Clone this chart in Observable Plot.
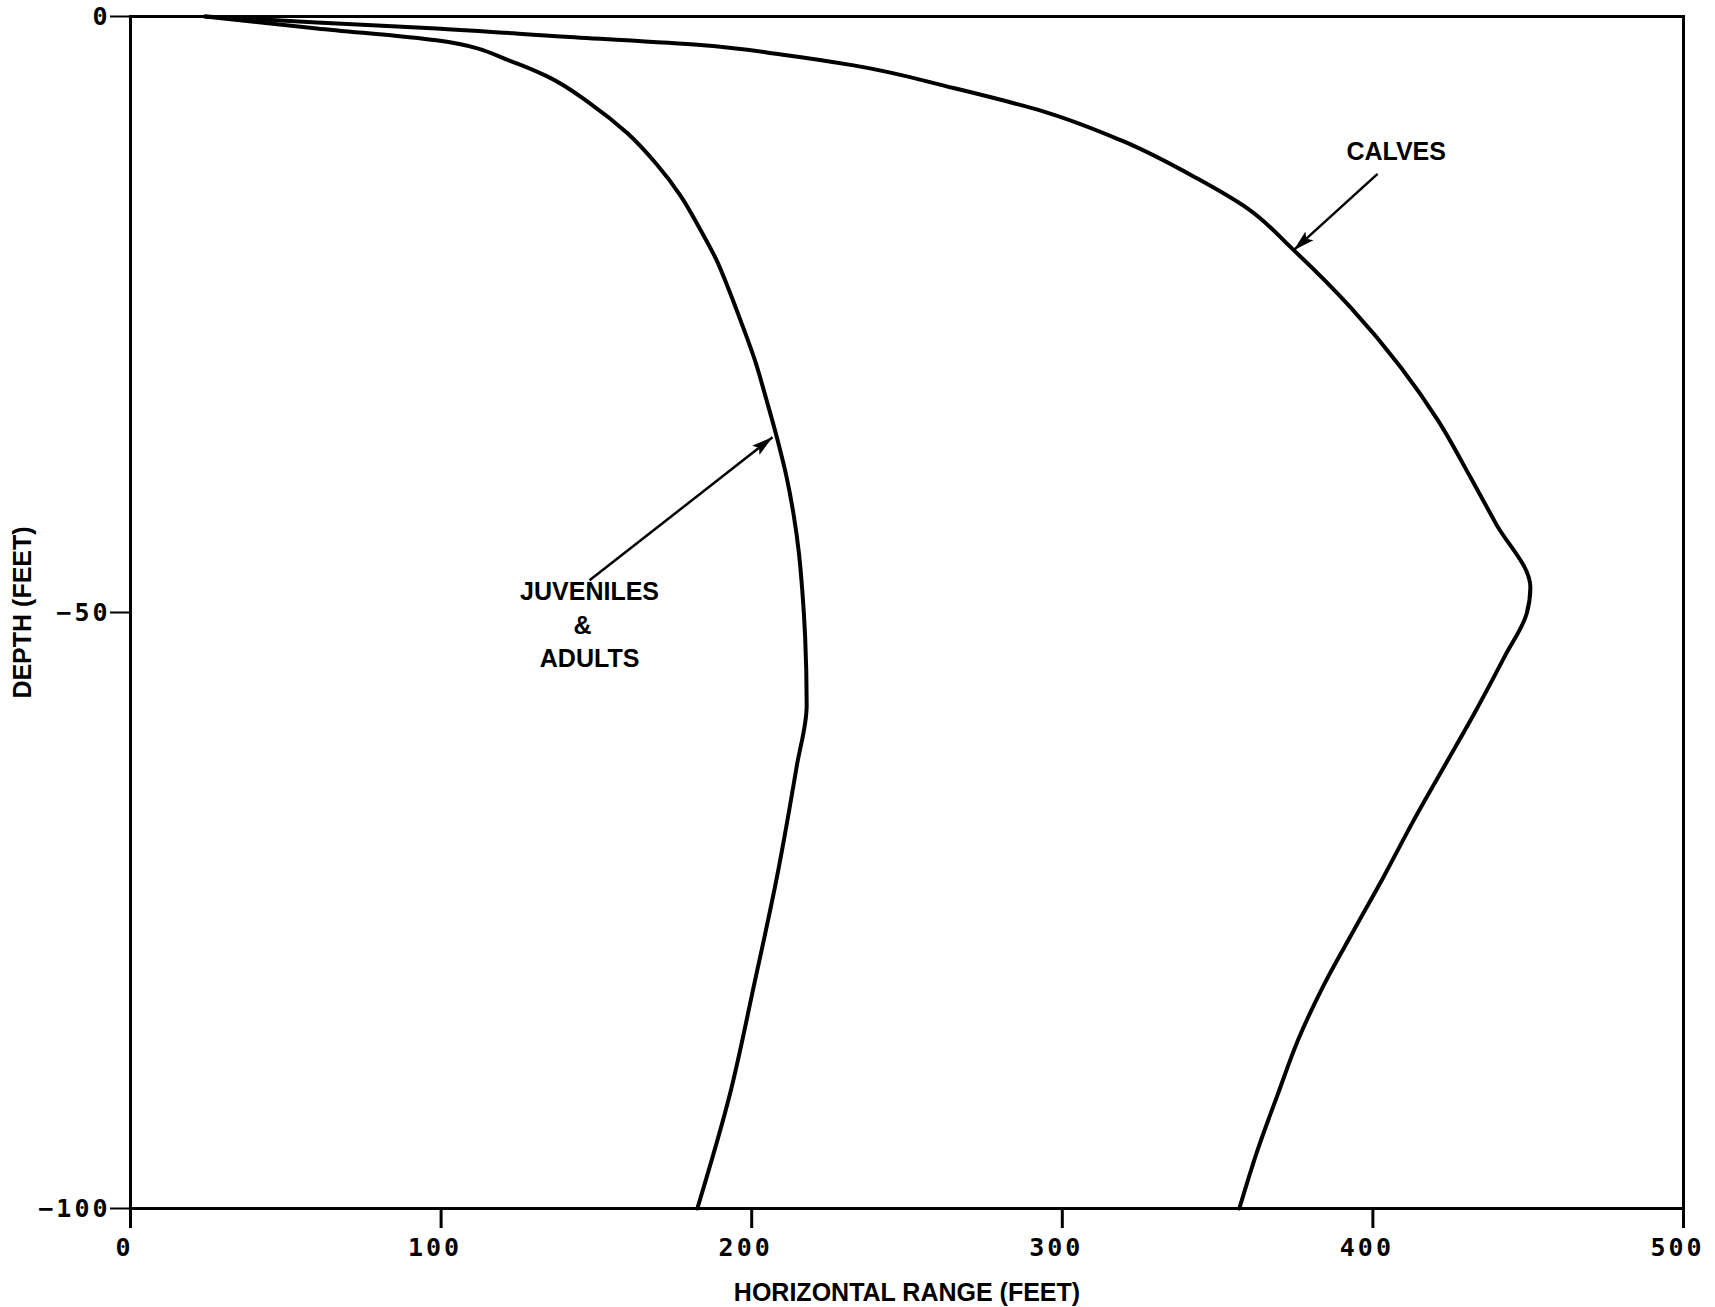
<!DOCTYPE html>
<html>
<head>
<meta charset="utf-8">
<script src="https://cdn.jsdelivr.net/npm/d3@7"></script>
<script src="https://cdn.jsdelivr.net/npm/@observablehq/plot@0.6"></script>
<style>
  html, body { margin: 0; padding: 0; background: #fff; }
  #chart svg { display: block; }
  g[aria-label="x-axis tick label"] text, g[aria-label="y-axis tick label"] text { letter-spacing: 3px; }
</style>
</head>
<body>
<div id="chart"></div>
<script>
// Horizontal range (feet) vs depth (feet)
const juvRange = [24, 60, 98.5, 123, 134, 148, 160, 169.4, 177, 183.5, 188.8, 192.0, 196.7, 201.1, 204.8, 208.2, 211.2, 213.5, 215.2, 216.3, 217.2, 217.7, 214.5, 208.2, 200.8, 193, 182.5];
const juvDepth = [0, -1.0, -2.0, -3.8, -5.0, -7.3, -9.8, -12.4, -15, -17.9, -20.5, -22.5, -25.7, -28.9, -32.2, -35.4, -38.6, -41.8, -45, -48.2, -52, -57.8, -62.9, -72.1, -81.2, -90.4, -100];

const calfRange = [24, 60, 98.5, 140, 183.5, 210, 232.8, 265, 294.3, 319, 343.5, 359.6, 374.5, 392.8, 408.9, 421.0, 431.5, 439.5, 450.7, 449.5, 442.4, 433, 423, 413, 403.6, 394, 384.3, 376, 369.4, 363, 357];
const calfDepth = [0, -0.5, -1.0, -1.7, -2.4, -3.2, -4.1, -6.0, -8.0, -10.4, -13.6, -16.1, -19.6, -24.4, -29.4, -33.9, -38.7, -42.5, -47.9, -50.1, -53.7, -58.3, -62.9, -67.5, -72.1, -76.6, -81.2, -85.8, -90.4, -95, -100];

const xTicks = [0, 100, 200, 300, 400, 500];
const yTicks = [0, -50, -100];

// Annotation labels and arrows
const labelText = ["JUVENILES", "&", "ADULTS", "CALVES"];
const labelX = [147.8, 145.5, 147.8, 407.5];
const labelY = [-48.3, -51.1, -53.9, -11.4];
const arrowX1 = [147.8, 401.5];
const arrowY1 = [-47.3, -13.2];
const arrowX2 = [206.7, 374.5];
const arrowY2 = [-35.3, -19.6];

const juv = juvRange.map((x, i) => ({x, y: juvDepth[i]}));
const calf = calfRange.map((x, i) => ({x, y: calfDepth[i]}));
const labels = labelText.map((t, i) => ({t, x: labelX[i], y: labelY[i]}));
const arrows = arrowX1.map((x1, i) => ({x1, y1: arrowY1[i], x2: arrowX2[i], y2: arrowY2[i]}));

const tickFont = "DejaVu Sans Mono, Liberation Mono, monospace";
const labelFont = "Liberation Sans, Arial, Helvetica, sans-serif";

function filledArrow(color, context) {
  const doc = (context && context.document) || document;
  const ns = "http://www.w3.org/2000/svg";
  const m = doc.createElementNS(ns, "marker");
  m.setAttribute("viewBox", "-5 -5 10 10");
  m.setAttribute("markerWidth", "8.5");
  m.setAttribute("markerHeight", "8.5");
  m.setAttribute("refX", "5");
  m.setAttribute("refY", "0");
  m.setAttribute("orient", "auto");
  m.setAttribute("fill", color);
  m.setAttribute("stroke", "none");
  const p = doc.createElementNS(ns, "path");
  p.setAttribute("d", "M-5,-2.8L5,0L-5,2.8L-3,0Z");
  m.appendChild(p);
  return m;
}

function build(arrowMark) {
  return Plot.plot({
    width: 1715,
    height: 1307,
    marginLeft: 130,
    marginRight: 32,
    marginTop: 16,
    marginBottom: 99,
    style: {background: "#fff", color: "#000"},
    x: {domain: [0, 500]},
    y: {domain: [-100, 0]},
    marks: [
      Plot.frame({stroke: "#000", strokeWidth: 3}),
      Plot.axisX({ticks: xTicks, tickSize: 20, tickPadding: 10, strokeWidth: 3, fontSize: 25, fontWeight: "bold", fontFamily: tickFont, label: null, tickFormat: d => String(d)}),
      Plot.axisY({ticks: yTicks, tickSize: 20, tickPadding: 0, strokeWidth: 2, fontSize: 25, fontWeight: "bold", fontFamily: tickFont, label: null, tickFormat: d => d < 0 ? "\u2212" + Math.abs(d) : String(d)}),
      Plot.line(juv, {x: "x", y: "y", stroke: "#000", strokeWidth: 4, curve: "monotone-y"}),
      Plot.line(calf, {x: "x", y: "y", stroke: "#000", strokeWidth: 4, curve: "monotone-y"}),
      arrowMark,
      Plot.text(labels, {x: "x", y: "y", text: "t", fontSize: 25, fontWeight: "bold", fontFamily: labelFont, fill: "#000"}),
      Plot.text(["HORIZONTAL RANGE (FEET)"], {frameAnchor: "bottom", dy: 84, text: d => d, textAnchor: "middle", lineAnchor: "middle", fontSize: 25, fontWeight: "bold", fontFamily: labelFont, fill: "#000"}),
      Plot.text(["DEPTH (FEET)"], {frameAnchor: "left", dx: -108, rotate: -90, text: d => d, textAnchor: "middle", lineAnchor: "middle", fontSize: 25, fontWeight: "bold", fontFamily: labelFont, fill: "#000"})
    ]
  });
}

let chart;
try {
  chart = build(Plot.link(arrows, {x1: "x1", y1: "y1", x2: "x2", y2: "y2", stroke: "#000", strokeWidth: 2.5, markerEnd: filledArrow}));
} catch (e) {
  chart = build(Plot.arrow(arrows, {x1: "x1", y1: "y1", x2: "x2", y2: "y2", stroke: "#000", strokeWidth: 2.5, headLength: 16, headAngle: 40}));
}
// shift x tick labels slightly left like the original typesetting
chart.querySelectorAll('g[aria-label="x-axis tick label"] text').forEach(t => t.setAttribute("dx", "-6"));
document.getElementById("chart").appendChild(chart);
</script>
</body>
</html>
